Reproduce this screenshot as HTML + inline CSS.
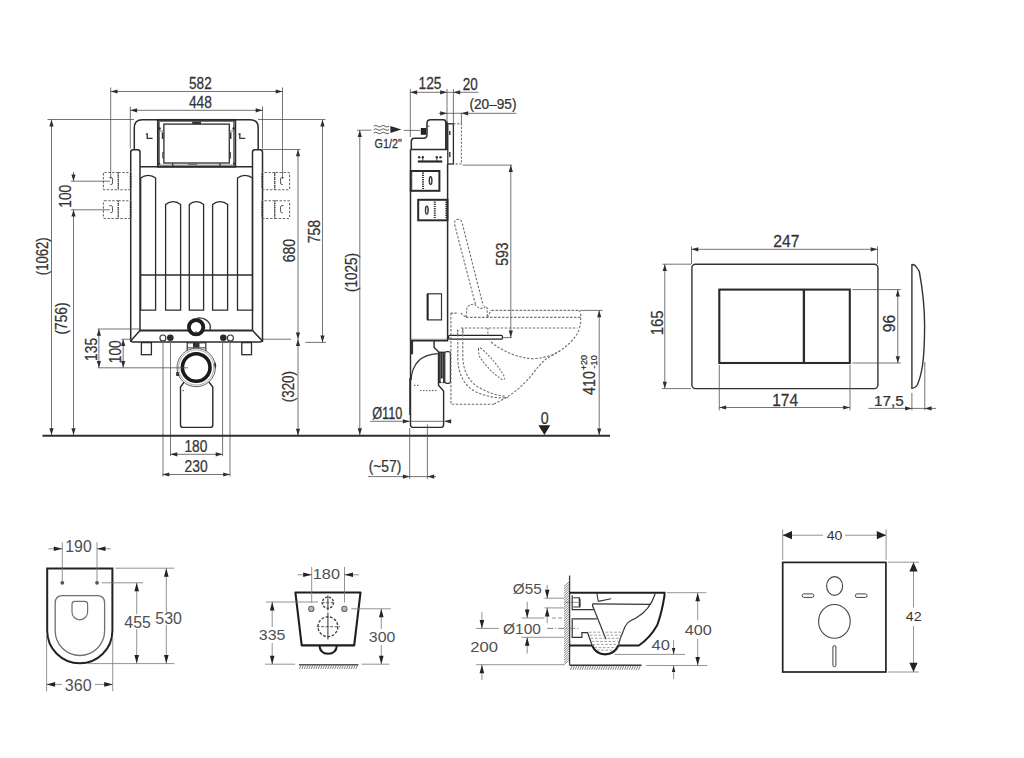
<!DOCTYPE html>
<html><head><meta charset="utf-8"><title>Installation frame drawing</title>
<style>
html,body{margin:0;padding:0;background:#fff;}
body{width:1024px;height:758px;overflow:hidden;}
svg{display:block;font-family:"Liberation Sans",sans-serif;}
</style></head><body>
<svg width="1024" height="758" viewBox="0 0 1024 758">
<rect width="1024" height="758" fill="#fff"/>
<path d="M134.3,149.7 L134.3,127.8 Q134.3,119.8 142.3,119.8 L250.2,119.8 Q258.2,119.8 258.2,127.8 L258.2,149.7" stroke="#2b2b2b" stroke-width="1.5" fill="none" />
<path d="M130.7,341.9 L130.7,152.2 Q130.7,149.7 133.2,149.7 L137.5,149.7 Q140,149.7 140,152.2 L140,330.5" stroke="#2b2b2b" stroke-width="1.5" fill="none" />
<path d="M262.5,341.9 L262.5,152.2 Q262.5,149.7 260,149.7 L255,149.7 Q252.5,149.7 252.5,152.2 L252.5,330.5" stroke="#2b2b2b" stroke-width="1.5" fill="none" />
<line x1="140" y1="166.8" x2="252.5" y2="166.8" stroke="#2b2b2b" stroke-width="1.5" stroke-linecap="butt"/>
<rect x="157.9" y="119.9" width="77.4" height="46.8" rx="0" stroke="#2b2b2b" stroke-width="1.9" fill="none"/>
<rect x="159.6" y="121.5" width="74" height="43.6" rx="0" stroke="#555" stroke-width="0.8" fill="none"/>
<rect x="163.9" y="124.1" width="65.4" height="38.9" rx="0" stroke="#2b2b2b" stroke-width="1.3" fill="none"/>
<rect x="192.2" y="121.6" width="8.8" height="2.6" rx="0" stroke="none" stroke-width="0" fill="#333"/>
<line x1="172.7" y1="163.2" x2="172.7" y2="166" stroke="#333" stroke-width="1.3" stroke-linecap="butt"/>
<line x1="220" y1="163.2" x2="220" y2="166" stroke="#333" stroke-width="1.3" stroke-linecap="butt"/>
<line x1="188" y1="164.2" x2="197" y2="164.2" stroke="#555" stroke-width="1" stroke-linecap="butt"/>
<circle cx="159.5" cy="128.6" r="1.3" fill="#333"/>
<line x1="162.5" y1="132.4" x2="162.5" y2="138.9" stroke="#333" stroke-width="1.5" stroke-linecap="butt"/>
<line x1="162.9" y1="151.9" x2="162.9" y2="158.4" stroke="#444" stroke-width="1.2" stroke-linecap="butt"/>
<circle cx="159.3" cy="163.6" r="1.1" fill="#333"/>
<path d="M159.6,131 L163.7,131 L163.7,140" stroke="#555" stroke-width="0.8" fill="none" />
<circle cx="233.7" cy="128.6" r="1.3" fill="#333"/>
<line x1="230.7" y1="132.4" x2="230.7" y2="138.9" stroke="#333" stroke-width="1.5" stroke-linecap="butt"/>
<line x1="230.3" y1="151.9" x2="230.3" y2="158.4" stroke="#444" stroke-width="1.2" stroke-linecap="butt"/>
<circle cx="233.9" cy="163.6" r="1.1" fill="#333"/>
<path d="M233.6,131 L229.5,131 L229.5,140" stroke="#555" stroke-width="0.8" fill="none" />
<path d="M147.2,133.6 L147.2,138.4 L152.6,138.4" stroke="#333" stroke-width="1.3" fill="none" />
<line x1="145.8" y1="134" x2="147.8" y2="134" stroke="#333" stroke-width="1.2" stroke-linecap="butt"/>
<path d="M239.8,133.6 L239.8,138.4 L245.2,138.4" stroke="#333" stroke-width="1.3" fill="none" />
<line x1="238.4" y1="134" x2="240.4" y2="134" stroke="#333" stroke-width="1.2" stroke-linecap="butt"/>
<path d="M140.7,310.1 L140.7,178.1 A11.63,11.63 0 0 1 155.6,178.1 L155.6,310.1 Z" stroke="#2b2b2b" stroke-width="1.3" fill="none" />
<path d="M237.5,310.1 L237.5,178.1 A11.77,11.77 0 0 1 252.5,178.1 L252.5,310.1 Z" stroke="#2b2b2b" stroke-width="1.3" fill="none" />
<path d="M165.6,310.1 L165.6,204.4 A11.77,11.77 0 0 1 180.6,204.4 L180.6,310.1 Z" stroke="#2b2b2b" stroke-width="1.3" fill="none" />
<path d="M189.3,310.1 L189.3,204.4 A10.82,10.82 0 0 1 203.6,204.4 L203.6,310.1 Z" stroke="#2b2b2b" stroke-width="1.3" fill="none" />
<path d="M212.6,310.1 L212.6,204.4 A11.77,11.77 0 0 1 227.6,204.4 L227.6,310.1 Z" stroke="#2b2b2b" stroke-width="1.3" fill="none" />
<line x1="140" y1="275" x2="252.5" y2="275" stroke="#2b2b2b" stroke-width="1.3" stroke-linecap="butt"/>
<line x1="140" y1="330.5" x2="252.5" y2="330.5" stroke="#2b2b2b" stroke-width="2" stroke-linecap="butt"/>
<path d="M140,330.5 L131.5,340 Q131,341.9 133,341.9 L260,341.9 Q262,341.9 261.5,340 L252.5,330.5" stroke="#2b2b2b" stroke-width="1.5" fill="none" />
<path d="M197.5,318 Q206,317.5 209.8,324 Q210.8,327 210,330" stroke="#333" stroke-width="1.3" fill="none" />
<circle cx="196.1" cy="327.2" r="7.2" fill="#fff" stroke="#1e1e1e" stroke-width="3.8"/>
<line x1="196.1" y1="331.2" x2="196.1" y2="333.2" stroke="#333" stroke-width="1" stroke-linecap="butt"/>
<circle cx="162.9" cy="338" r="3" fill="#fff" stroke="#333" stroke-width="1.1"/>
<circle cx="170.3" cy="337.8" r="3.3" fill="#2a2a2a"/>
<circle cx="223.3" cy="337.8" r="3.3" fill="#2a2a2a"/>
<circle cx="230.4" cy="338" r="3" fill="#fff" stroke="#333" stroke-width="1.1"/>
<rect x="141.4" y="342.6" width="10" height="12.1" rx="0" stroke="#2b2b2b" stroke-width="1.3" fill="none"/>
<rect x="241.8" y="342.6" width="9.7" height="12.1" rx="0" stroke="#2b2b2b" stroke-width="1.3" fill="none"/>
<line x1="163" y1="342.5" x2="163" y2="476.5" stroke="#666" stroke-width="0.9" stroke-linecap="butt"/>
<line x1="230" y1="342.5" x2="230" y2="476.5" stroke="#666" stroke-width="0.9" stroke-linecap="butt"/>
<line x1="170.5" y1="342.5" x2="170.5" y2="456.2" stroke="#666" stroke-width="0.9" stroke-linecap="butt"/>
<line x1="222.6" y1="342.5" x2="222.6" y2="456.2" stroke="#666" stroke-width="0.9" stroke-linecap="butt"/>
<rect x="187.2" y="342.8" width="18.6" height="9.7" rx="0" stroke="#333" stroke-width="1.2" fill="none"/>
<rect x="193" y="342.8" width="6.5" height="4.7" rx="0" stroke="none" stroke-width="0" fill="#333"/>
<line x1="187.2" y1="347.8" x2="205.8" y2="347.8" stroke="#444" stroke-width="1" stroke-linecap="butt"/>
<path d="M186,379.5 L180.5,387 L180.5,425 Q180.5,427.4 183,427.4 L210.3,427.4 Q212.8,427.4 212.8,425 L212.8,387 L207,379.5" stroke="#2b2b2b" stroke-width="1.4" fill="#fff" />
<circle cx="196.2" cy="367.5" r="19.2" fill="#fff" stroke="#555" stroke-width="0.9"/>
<circle cx="196.2" cy="367.5" r="17.6" fill="none" stroke="#777" stroke-width="0.6"/>
<circle cx="196.2" cy="367.5" r="13.8" fill="#fff" stroke="#1a1a1a" stroke-width="3.6"/>
<polygon points="176.2,372 178.5,372 179.5,376 176.2,376" fill="#333"/>
<polygon points="215.5,362 216.3,366 215,369 214,364" fill="#333"/>
<circle cx="183.3" cy="390.6" r="0.7" fill="#333"/>
<rect x="103.4" y="172.5" width="14.9" height="17.2" rx="1" stroke="#666" stroke-width="1.1" fill="none" stroke-dasharray="2.4,1.5"/>
<path d="M118.3,172.5 L130.6,172.5 M130.6,189.7 L118.3,189.7" stroke="#666" stroke-width="1.1" fill="none" stroke-dasharray="2.4,1.5" />
<line x1="118.3" y1="172.5" x2="118.3" y2="189.7" stroke="#444" stroke-width="1.4" stroke-dasharray="1.1,1" stroke-linecap="butt"/>
<path d="M109.35,177.5 L111.35,177.5 Q112.45,177.5 112.45,179 L112.45,183 Q112.45,184.5 111.15,184.5 L110.25,184.5" stroke="#555" stroke-width="1" fill="none" />
<line x1="130.6" y1="173.5" x2="130.6" y2="188.7" stroke="#333" stroke-width="1.8" stroke-dasharray="1.2,1.3" stroke-linecap="butt"/>
<rect x="274.7" y="172.5" width="14.9" height="17.2" rx="1" stroke="#666" stroke-width="1.1" fill="none" stroke-dasharray="2.4,1.5"/>
<path d="M274.7,172.5 L262.2,172.5 M262.2,189.7 L274.7,189.7" stroke="#666" stroke-width="1.1" fill="none" stroke-dasharray="2.4,1.5" />
<line x1="274.7" y1="172.5" x2="274.7" y2="189.7" stroke="#444" stroke-width="1.4" stroke-dasharray="1.1,1" stroke-linecap="butt"/>
<path d="M283.65,177.5 L281.65,177.5 Q280.55,177.5 280.55,179 L280.55,183 Q280.55,184.5 281.85,184.5 L282.75,184.5" stroke="#555" stroke-width="1" fill="none" />
<line x1="262.2" y1="173.5" x2="262.2" y2="188.7" stroke="#333" stroke-width="1.8" stroke-dasharray="1.2,1.3" stroke-linecap="butt"/>
<rect x="103.4" y="200.7" width="14.9" height="17.8" rx="1" stroke="#666" stroke-width="1.1" fill="none" stroke-dasharray="2.4,1.5"/>
<path d="M118.3,200.7 L130.6,200.7 M130.6,218.5 L118.3,218.5" stroke="#666" stroke-width="1.1" fill="none" stroke-dasharray="2.4,1.5" />
<line x1="118.3" y1="200.7" x2="118.3" y2="218.5" stroke="#444" stroke-width="1.4" stroke-dasharray="1.1,1" stroke-linecap="butt"/>
<path d="M109.35,205.7 L111.35,205.7 Q112.45,205.7 112.45,207.2 L112.45,211.2 Q112.45,212.7 111.15,212.7 L110.25,212.7" stroke="#555" stroke-width="1" fill="none" />
<line x1="130.6" y1="201.7" x2="130.6" y2="217.5" stroke="#333" stroke-width="1.8" stroke-dasharray="1.2,1.3" stroke-linecap="butt"/>
<rect x="274.7" y="200.7" width="14.9" height="17.8" rx="1" stroke="#666" stroke-width="1.1" fill="none" stroke-dasharray="2.4,1.5"/>
<path d="M274.7,200.7 L262.2,200.7 M262.2,218.5 L274.7,218.5" stroke="#666" stroke-width="1.1" fill="none" stroke-dasharray="2.4,1.5" />
<line x1="274.7" y1="200.7" x2="274.7" y2="218.5" stroke="#444" stroke-width="1.4" stroke-dasharray="1.1,1" stroke-linecap="butt"/>
<path d="M283.65,205.7 L281.65,205.7 Q280.55,205.7 280.55,207.2 L280.55,211.2 Q280.55,212.7 281.85,212.7 L282.75,212.7" stroke="#555" stroke-width="1" fill="none" />
<line x1="262.2" y1="201.7" x2="262.2" y2="217.5" stroke="#333" stroke-width="1.8" stroke-dasharray="1.2,1.3" stroke-linecap="butt"/>
<line x1="110.7" y1="91.5" x2="282.5" y2="91.5" stroke="#505050" stroke-width="0.8" stroke-linecap="butt"/>
<polygon points="110.7,91.5 117.5,89.4 117.5,93.6" fill="#2e2e2e"/>
<polygon points="282.5,91.5 275.7,93.6 275.7,89.4" fill="#2e2e2e"/>
<line x1="110.7" y1="87.5" x2="110.7" y2="179" stroke="#505050" stroke-width="0.8" stroke-linecap="butt"/>
<line x1="282.5" y1="87.5" x2="282.5" y2="179" stroke="#505050" stroke-width="0.8" stroke-linecap="butt"/>
<text transform="translate(200.3,88.8) scale(0.8330,1)" x="-13.5" y="0" font-size="16.28" fill="#333" stroke="#333" stroke-width="0.25">582</text>
<line x1="130.3" y1="110.3" x2="262.5" y2="110.3" stroke="#505050" stroke-width="0.8" stroke-linecap="butt"/>
<polygon points="130.3,110.3 137.1,108.2 137.1,112.4" fill="#2e2e2e"/>
<polygon points="262.5,110.3 255.7,112.4 255.7,108.2" fill="#2e2e2e"/>
<line x1="130.3" y1="106.5" x2="130.3" y2="148.5" stroke="#505050" stroke-width="0.8" stroke-linecap="butt"/>
<line x1="262.5" y1="106.5" x2="262.5" y2="148.5" stroke="#505050" stroke-width="0.8" stroke-linecap="butt"/>
<text transform="translate(200.3,107.6) scale(0.8399,1)" x="-13.53" y="0" font-size="16.42" fill="#333" stroke="#333" stroke-width="0.25">448</text>
<line x1="47.5" y1="119.5" x2="134" y2="119.5" stroke="#505050" stroke-width="0.8" stroke-linecap="butt"/>
<line x1="258" y1="119.5" x2="325.5" y2="119.5" stroke="#505050" stroke-width="0.8" stroke-linecap="butt"/>
<line x1="51.5" y1="119.5" x2="51.5" y2="435" stroke="#505050" stroke-width="0.8" stroke-linecap="butt"/>
<polygon points="51.5,119.6 53.6,126.4 49.4,126.4" fill="#2e2e2e"/>
<polygon points="51.5,435 49.4,428.2 53.6,428.2" fill="#2e2e2e"/>
<text transform="translate(47.7,256.2) rotate(-90) scale(0.8358,1)" x="-22.69" y="0" font-size="15.70" fill="#333" stroke="#333" stroke-width="0.25">(1062)</text>
<line x1="73.5" y1="172" x2="73.5" y2="181.2" stroke="#505050" stroke-width="0.8" stroke-linecap="butt"/>
<polygon points="73.5,181.2 71.4,174.4 75.6,174.4" fill="#2e2e2e"/>
<line x1="70.8" y1="181.2" x2="110" y2="181.2" stroke="#505050" stroke-width="0.8" stroke-linecap="butt"/>
<line x1="70.8" y1="209.8" x2="110" y2="209.8" stroke="#505050" stroke-width="0.8" stroke-linecap="butt"/>
<line x1="73.5" y1="209.8" x2="73.5" y2="435" stroke="#505050" stroke-width="0.8" stroke-linecap="butt"/>
<polygon points="73.5,209.8 75.6,216.6 71.4,216.6" fill="#2e2e2e"/>
<polygon points="73.5,435 71.4,428.2 75.6,428.2" fill="#2e2e2e"/>
<text transform="translate(70.7,196) rotate(-90) scale(0.8463,1)" x="-13.88" y="0" font-size="16.28" fill="#333" stroke="#333" stroke-width="0.25">100</text>
<text transform="translate(66.8,318.5) rotate(-90) scale(0.8790,1)" x="-18.32" y="0" font-size="15.70" fill="#333" stroke="#333" stroke-width="0.25">(756)</text>
<line x1="97.7" y1="329" x2="140" y2="329" stroke="#505050" stroke-width="0.8" stroke-linecap="butt"/>
<line x1="97.7" y1="367.8" x2="188" y2="367.8" stroke="#505050" stroke-width="0.8" stroke-linecap="butt"/>
<line x1="98.9" y1="329" x2="98.9" y2="367.8" stroke="#505050" stroke-width="0.8" stroke-linecap="butt"/>
<polygon points="98.9,329 101,335.8 96.8,335.8" fill="#2e2e2e"/>
<polygon points="98.9,367.8 96.8,361 101,361" fill="#2e2e2e"/>
<line x1="121.5" y1="339.2" x2="131" y2="339.2" stroke="#505050" stroke-width="0.8" stroke-linecap="butt"/>
<line x1="123.2" y1="339.2" x2="123.2" y2="367.8" stroke="#505050" stroke-width="0.8" stroke-linecap="butt"/>
<polygon points="123.2,339.2 125.3,346 121.1,346" fill="#2e2e2e"/>
<polygon points="123.2,367.8 121.1,361 125.3,361" fill="#2e2e2e"/>
<text transform="translate(96.7,349.2) rotate(-90) scale(0.8634,1)" x="-13.61" y="0" font-size="15.99" fill="#333" stroke="#333" stroke-width="0.25">135</text>
<text transform="translate(120.7,351.5) rotate(-90) scale(0.8617,1)" x="-13.63" y="0" font-size="15.99" fill="#333" stroke="#333" stroke-width="0.25">100</text>
<line x1="261" y1="149.5" x2="300.5" y2="149.5" stroke="#505050" stroke-width="0.8" stroke-linecap="butt"/>
<line x1="298" y1="149.5" x2="298" y2="435.5" stroke="#505050" stroke-width="0.8" stroke-linecap="butt"/>
<polygon points="298,149.5 300.1,156.3 295.9,156.3" fill="#2e2e2e"/>
<polygon points="298,339.2 295.9,332.4 300.1,332.4" fill="#2e2e2e"/>
<polygon points="298,339.2 300.1,346 295.9,346" fill="#2e2e2e"/>
<polygon points="298,435.5 295.9,428.7 300.1,428.7" fill="#2e2e2e"/>
<line x1="262.7" y1="339.2" x2="291" y2="339.2" stroke="#505050" stroke-width="0.8" stroke-linecap="butt"/>
<text transform="translate(295.1,250.6) rotate(-90) scale(0.8756,1)" x="-13.43" y="0" font-size="15.99" fill="#333" stroke="#333" stroke-width="0.25">680</text>
<text transform="translate(293.8,386.6) rotate(-90) scale(0.8530,1)" x="-18.32" y="0" font-size="15.70" fill="#333" stroke="#333" stroke-width="0.25">(320)</text>
<line x1="322.5" y1="120" x2="322.5" y2="342.4" stroke="#505050" stroke-width="0.8" stroke-linecap="butt"/>
<polygon points="322.5,119.6 324.6,126.4 320.4,126.4" fill="#2e2e2e"/>
<polygon points="322.5,342.4 320.4,335.6 324.6,335.6" fill="#2e2e2e"/>
<line x1="305.4" y1="342.4" x2="326" y2="342.4" stroke="#505050" stroke-width="0.8" stroke-linecap="butt"/>
<text transform="translate(320.4,231.6) rotate(-90) scale(0.8783,1)" x="-13.4" y="0" font-size="15.99" fill="#333" stroke="#333" stroke-width="0.25">758</text>
<line x1="42.5" y1="435.8" x2="610" y2="435.8" stroke="#2e2e2e" stroke-width="2.1" stroke-linecap="butt"/>
<line x1="170.5" y1="454.3" x2="222.5" y2="454.3" stroke="#505050" stroke-width="0.8" stroke-linecap="butt"/>
<polygon points="170.5,454.3 177.3,452.2 177.3,456.4" fill="#2e2e2e"/>
<polygon points="222.5,454.3 215.7,456.4 215.7,452.2" fill="#2e2e2e"/>
<text transform="translate(196.2,452.2) scale(0.8172,1)" x="-14.38" y="0" font-size="16.86" fill="#333" stroke="#333" stroke-width="0.25">180</text>
<line x1="162.5" y1="474.5" x2="230" y2="474.5" stroke="#505050" stroke-width="0.8" stroke-linecap="butt"/>
<polygon points="162.5,474.5 169.3,472.4 169.3,476.6" fill="#2e2e2e"/>
<polygon points="230,474.5 223.2,476.6 223.2,472.4" fill="#2e2e2e"/>
<text transform="translate(196.2,472.4) scale(0.8225,1)" x="-14.16" y="0" font-size="16.86" fill="#333" stroke="#333" stroke-width="0.25">230</text>
<line x1="357" y1="130.2" x2="371.3" y2="130.2" stroke="#505050" stroke-width="0.8" stroke-linecap="butt"/>
<line x1="359.8" y1="130.2" x2="359.8" y2="435" stroke="#505050" stroke-width="0.8" stroke-linecap="butt"/>
<polygon points="359.8,130.2 361.9,137 357.7,137" fill="#2e2e2e"/>
<polygon points="359.8,435 357.7,428.2 361.9,428.2" fill="#2e2e2e"/>
<text transform="translate(356.8,272.4) rotate(-90) scale(0.8612,1)" x="-22.69" y="0" font-size="15.70" fill="#333" stroke="#333" stroke-width="0.25">(1025)</text>
<path d="M373.8,126.2 q1.9,-1.6 3.8,0 t3.8,0 t3.8,0 t3.8,0" stroke="#444" stroke-width="0.9" fill="none" />
<path d="M373.8,129.6 q1.9,-1.6 3.8,0 t3.8,0 t3.8,0 t3.8,0" stroke="#444" stroke-width="0.9" fill="none" />
<path d="M373.8,133 q1.9,-1.6 3.8,0 t3.8,0 t3.8,0 t3.8,0" stroke="#444" stroke-width="0.9" fill="none" />
<polygon points="401.4,129.6 390.4,133.1 390.4,126.1" fill="#2a2a2a"/>
<line x1="403.7" y1="130.4" x2="420" y2="130.4" stroke="#555" stroke-width="0.8" stroke-linecap="butt"/>
<text transform="translate(388.2,147.5) scale(0.8526,1)" x="-16" y="0" font-size="12.65" fill="#333" stroke="#333" stroke-width="0.25">G1/2&quot;</text>
<path d="M411.3,149.3 L411.3,141.4 Q411.3,138.2 414.5,138.2 L423.6,138.2 Q427,138.2 427,134.8 L427,123.3 Q427,119.7 430.6,119.7 L443.2,119.7 Q445.8,119.7 445.8,122.3 L445.8,149.3" stroke="#2b2b2b" stroke-width="1.5" fill="none" />
<rect x="420.8" y="128" width="5.4" height="6.8" rx="0" stroke="none" stroke-width="0" fill="#222"/>
<path d="M426.5,126.2 L429.5,126.2" stroke="#444" stroke-width="0.9" fill="none" />
<rect x="445.8" y="121.3" width="2" height="28" rx="0" stroke="none" stroke-width="0" fill="#333"/>
<rect x="447.8" y="123.8" width="5.6" height="40.2" rx="0" stroke="#2b2b2b" stroke-width="1.3" fill="none"/>
<path d="M453.4,123.8 L461.4,123.8 L461.4,164 L453.4,164" stroke="#666" stroke-width="1" fill="none" stroke-dasharray="2.2,1.5" />
<line x1="449.8" y1="131" x2="449.8" y2="135" stroke="#333" stroke-width="1.4" stroke-linecap="butt"/>
<line x1="449.8" y1="152" x2="449.8" y2="157" stroke="#333" stroke-width="1.4" stroke-linecap="butt"/>
<path d="M410.5,149.4 L447.8,149.4 M410.5,149.4 L410.5,340.6 M447.6,164 L447.6,340.6" stroke="#2b2b2b" stroke-width="1.5" fill="none" />
<line x1="417.8" y1="161.5" x2="442.2" y2="161.5" stroke="#2a2a2a" stroke-width="2.2" stroke-linecap="butt"/>
<circle cx="419.2" cy="157.3" r="1.2" fill="#333"/>
<circle cx="422.8" cy="157.3" r="1.2" fill="#333"/>
<circle cx="436.8" cy="157.3" r="1.2" fill="#333"/>
<circle cx="440.5" cy="157.3" r="1.2" fill="#333"/>
<line x1="422.8" y1="157.3" x2="422.8" y2="161" stroke="#333" stroke-width="0.9" stroke-linecap="butt"/>
<line x1="436.8" y1="157.3" x2="436.8" y2="161" stroke="#333" stroke-width="0.9" stroke-linecap="butt"/>
<rect x="410.8" y="171" width="28.6" height="19.8" rx="0" stroke="#2b2b2b" stroke-width="2" fill="none"/>
<line x1="423" y1="172.5" x2="423" y2="189.5" stroke="#333" stroke-width="2" stroke-dasharray="1.2,1.0" stroke-linecap="butt"/>
<ellipse cx="430.6" cy="180.6" rx="1.3" ry="3.9" fill="none" stroke="#333" stroke-width="1.4"/>
<rect x="418.2" y="199.8" width="29.2" height="20.5" rx="0" stroke="#2b2b2b" stroke-width="2" fill="none"/>
<line x1="434.8" y1="201.5" x2="434.8" y2="219" stroke="#333" stroke-width="2" stroke-dasharray="1.2,1.0" stroke-linecap="butt"/>
<line x1="446.2" y1="201.5" x2="446.2" y2="219" stroke="#333" stroke-width="1.8" stroke-dasharray="1.2,1.0" stroke-linecap="butt"/>
<ellipse cx="426.8" cy="210.2" rx="1.3" ry="3.9" fill="none" stroke="#333" stroke-width="1.4"/>
<line x1="411.6" y1="172.5" x2="411.6" y2="189.5" stroke="#444" stroke-width="1.6" stroke-dasharray="1.2,1.0" stroke-linecap="butt"/>
<rect x="427.6" y="293.8" width="13.9" height="26.1" rx="0" stroke="#333" stroke-width="1.2" fill="none"/>
<line x1="427.6" y1="294" x2="427.6" y2="319.8" stroke="#222" stroke-width="2" stroke-linecap="butt"/>
<line x1="410.5" y1="340.6" x2="448.2" y2="340.6" stroke="#2a2a2a" stroke-width="1.8" stroke-linecap="butt"/>
<line x1="411.5" y1="339.2" x2="446.5" y2="339.2" stroke="#555" stroke-width="1" stroke-dasharray="1,1" stroke-linecap="butt"/>
<rect x="448.6" y="335.4" width="53.8" height="3.8" rx="1" stroke="#222" stroke-width="1.2" fill="none"/>
<line x1="449.5" y1="337.3" x2="501" y2="337.3" stroke="#fff" stroke-width="0.9" stroke-linecap="butt"/>
<path d="M410.5,340.6 L410.5,424.8 Q410.5,427.4 413,427.4 L441,427.4 Q443.6,427.4 443.6,424.8 L443.6,391 L438.5,385.2 L438.5,351.8 L434.1,347.4 L434.1,341" stroke="#2b2b2b" stroke-width="1.4" fill="none" />
<line x1="409.6" y1="378" x2="409.6" y2="415" stroke="#444" stroke-width="1" stroke-linecap="butt"/>
<path d="M411,380.4 Q412.5,355 437.8,353.6" stroke="#333" stroke-width="1.2" fill="none" />
<rect x="438.5" y="351.6" width="6.3" height="31.5" rx="0" stroke="none" stroke-width="0" fill="#2e2e2e"/>
<line x1="440.3" y1="353" x2="440.3" y2="381" stroke="#999" stroke-width="0.6" stroke-linecap="butt"/>
<line x1="442.6" y1="353" x2="442.6" y2="381" stroke="#999" stroke-width="0.6" stroke-linecap="butt"/>
<rect x="440.8" y="378.5" width="2.2" height="4" rx="0" stroke="none" stroke-width="0" fill="#fff"/>
<rect x="444.8" y="351.6" width="5.6" height="31.7" rx="2" stroke="#333" stroke-width="1.2" fill="#fff"/>
<line x1="412" y1="341" x2="412" y2="354.3" stroke="#333" stroke-width="2.2" stroke-linecap="butt"/>
<line x1="414" y1="385.3" x2="420" y2="385.3" stroke="#555" stroke-width="1" stroke-dasharray="1.5,1.5" stroke-linecap="butt"/>
<line x1="420" y1="390.6" x2="437" y2="390.6" stroke="#555" stroke-width="1" stroke-dasharray="1.5,1.5" stroke-linecap="butt"/>
<line x1="370.2" y1="421.3" x2="451.2" y2="421.3" stroke="#505050" stroke-width="0.8" stroke-linecap="butt"/>
<polygon points="409.7,421.3 402.9,423.4 402.9,419.2" fill="#2e2e2e"/>
<polygon points="444.3,421.3 451.1,419.2 451.1,423.4" fill="#2e2e2e"/>
<text transform="translate(387.7,418.8) scale(0.7961,1)" x="-19.52" y="0" font-size="15.99" fill="#333" stroke="#333" stroke-width="0.25">Ø110</text>
<line x1="409.7" y1="428" x2="409.7" y2="479" stroke="#505050" stroke-width="0.8" stroke-linecap="butt"/>
<line x1="427.4" y1="424.4" x2="427.4" y2="479" stroke="#505050" stroke-width="0.8" stroke-linecap="butt"/>
<line x1="368.1" y1="476.6" x2="436" y2="476.6" stroke="#505050" stroke-width="0.8" stroke-linecap="butt"/>
<polygon points="409.7,476.6 402.9,478.7 402.9,474.5" fill="#2e2e2e"/>
<polygon points="427.4,476.6 434.2,474.5 434.2,478.7" fill="#2e2e2e"/>
<text transform="translate(385,471.8) scale(0.8794,1)" x="-18.54" y="0" font-size="15.70" fill="#333" stroke="#333" stroke-width="0.25">(~57)</text>
<line x1="410.3" y1="92.3" x2="478.5" y2="92.3" stroke="#505050" stroke-width="0.8" stroke-linecap="butt"/>
<polygon points="410.3,92.3 417.1,90.2 417.1,94.4" fill="#2e2e2e"/>
<polygon points="447,92.3 440.2,94.4 440.2,90.2" fill="#2e2e2e"/>
<polygon points="453.4,92.3 460.2,90.2 460.2,94.4" fill="#2e2e2e"/>
<line x1="410.3" y1="89" x2="410.3" y2="137" stroke="#505050" stroke-width="0.8" stroke-linecap="butt"/>
<line x1="447" y1="89" x2="447" y2="121" stroke="#505050" stroke-width="0.8" stroke-linecap="butt"/>
<line x1="453.4" y1="89" x2="453.4" y2="124" stroke="#505050" stroke-width="0.8" stroke-linecap="butt"/>
<text transform="translate(430.2,88.8) scale(0.8292,1)" x="-14.11" y="0" font-size="16.57" fill="#333" stroke="#333" stroke-width="0.25">125</text>
<text transform="translate(470.3,89.5) scale(0.8361,1)" x="-9.06" y="0" font-size="16.13" fill="#333" stroke="#333" stroke-width="0.25">20</text>
<line x1="438.7" y1="113.3" x2="516.3" y2="113.3" stroke="#505050" stroke-width="0.8" stroke-linecap="butt"/>
<polygon points="447,113.3 440.2,115.4 440.2,111.2" fill="#2e2e2e"/>
<polygon points="461.4,113.3 468.2,111.2 468.2,115.4" fill="#2e2e2e"/>
<line x1="461.4" y1="112.8" x2="461.4" y2="124" stroke="#505050" stroke-width="0.8" stroke-linecap="butt"/>
<text transform="translate(493,108.5) scale(0.9474,1)" x="-24.8" y="0" font-size="14.39" fill="#333" stroke="#333" stroke-width="0.25">(20–95)</text>
<line x1="462.7" y1="165.1" x2="512.2" y2="165.1" stroke="#505050" stroke-width="0.8" stroke-linecap="butt"/>
<line x1="510.8" y1="165.1" x2="510.8" y2="337.3" stroke="#505050" stroke-width="0.8" stroke-linecap="butt"/>
<polygon points="510.8,165.1 512.9,171.9 508.7,171.9" fill="#2e2e2e"/>
<polygon points="510.8,337.3 508.7,330.5 512.9,330.5" fill="#2e2e2e"/>
<line x1="502.4" y1="337.6" x2="512" y2="337.6" stroke="#505050" stroke-width="0.8" stroke-linecap="butt"/>
<text transform="translate(507.7,254.2) rotate(-90) scale(0.8724,1)" x="-13.31" y="0" font-size="15.99" fill="#333" stroke="#333" stroke-width="0.25">593</text>
<path d="M475.4,304.2 L454.6,224.5 Q453.8,219.8 458.2,219.2 Q461.2,219.2 462.3,223.5 L483.1,305.5" stroke="#6e6e6e" stroke-width="1.1" fill="none" stroke-dasharray="2.4,1.6" />
<path d="M450.9,313.1 L458.2,313.1 M460.8,313.1 L466.1,317.4 L466.8,308.5 Q468,304.4 474.7,304.2 L476.5,306.5 Q480,309 483.3,308.2 L485.5,306.3 L487.2,308 L487.2,317.4 L491.2,310.3" stroke="#6e6e6e" stroke-width="1.1" fill="none" stroke-dasharray="2.2,1.4" />
<line x1="491.5" y1="310.4" x2="578.5" y2="310.4" stroke="#6e6e6e" stroke-width="1.1" stroke-dasharray="2.4,1.6" stroke-linecap="butt"/>
<line x1="466.1" y1="317.4" x2="580.5" y2="317.4" stroke="#6e6e6e" stroke-width="1.1" stroke-dasharray="2.4,1.6" stroke-linecap="butt"/>
<line x1="460.8" y1="328" x2="576.8" y2="328" stroke="#6e6e6e" stroke-width="1.1" stroke-dasharray="2.4,1.6" stroke-linecap="butt"/>
<path d="M578.5,310.4 Q580.8,311.5 580.8,316 L580.6,324 Q580.4,328.5 576.8,328" stroke="#6e6e6e" stroke-width="1.1" fill="none" stroke-dasharray="2.4,1.6" />
<path d="M450.9,313.1 L450.9,404.2 L494,404.2" stroke="#6e6e6e" stroke-width="1.1" fill="none" stroke-dasharray="2.4,1.6" />
<line x1="462.8" y1="328" x2="462.8" y2="336" stroke="#6e6e6e" stroke-width="1.1" stroke-dasharray="2,1.4" stroke-linecap="butt"/>
<line x1="487.9" y1="328" x2="487.9" y2="335" stroke="#6e6e6e" stroke-width="1.1" stroke-dasharray="2,1.4" stroke-linecap="butt"/>
<line x1="457.5" y1="329.5" x2="457.5" y2="336" stroke="#6e6e6e" stroke-width="1.1" stroke-dasharray="2,1.4" stroke-linecap="butt"/>
<path d="M579,330 Q573,345 547,358.2 Q539,365 531,376 Q516,394 494,404" stroke="#6e6e6e" stroke-width="1.1" fill="none" stroke-dasharray="2.4,1.6" />
<path d="M491,342 Q510,357 532,358.7 Q550,358 561,350" stroke="#6e6e6e" stroke-width="1.1" fill="none" stroke-dasharray="2.4,1.6" />
<path d="M457.8,330 L457.8,360 Q459,383 476,392 Q492,399 508,397.6" stroke="#6e6e6e" stroke-width="1.1" fill="none" stroke-dasharray="2.4,1.6" />
<path d="M462.8,330 L462.8,358 Q464,378 478,387 Q494,396 505,396" stroke="#6e6e6e" stroke-width="1.1" fill="none" stroke-dasharray="2.4,1.6" />
<path d="M478.5,350 Q478,346 482,349 Q496,362 504,376 Q506,380 502,379.5 Q490,372 479,356 Z" stroke="#6e6e6e" stroke-width="1.1" fill="none" stroke-dasharray="2,1.5" />
<line x1="580.3" y1="310.4" x2="602.6" y2="310.4" stroke="#505050" stroke-width="0.8" stroke-linecap="butt"/>
<line x1="599.2" y1="310.4" x2="599.2" y2="435.3" stroke="#505050" stroke-width="0.8" stroke-linecap="butt"/>
<polygon points="599.2,310.4 601.3,317.2 597.1,317.2" fill="#2e2e2e"/>
<polygon points="599.2,435.3 597.1,428.5 601.3,428.5" fill="#2e2e2e"/>
<text transform="translate(594.5,383.2) rotate(-90) scale(0.9081,1)" x="-12.97" y="0" font-size="15.70" fill="#333" stroke="#333" stroke-width="0.25">410</text>
<text transform="translate(586.7,362.6) rotate(-90) scale(0.9462,1)" x="-8.18" y="0" font-size="9.59" fill="#333" stroke="#333" stroke-width="0.25">+20</text>
<text transform="translate(596.5,361.8) rotate(-90) scale(0.9492,1)" x="-6.96" y="0" font-size="9.59" fill="#333" stroke="#333" stroke-width="0.25">-10</text>
<text transform="translate(544.8,423.5) scale(0.8224,1)" x="-4.81" y="0" font-size="17.30" fill="#333" stroke="#333" stroke-width="0.25">0</text>
<polygon points="538.4,425.2 550.3,425.2 544.4,435" fill="#222"/>
<rect x="691.9" y="264.2" width="186" height="124.4" rx="3.5" stroke="#333" stroke-width="1.4" fill="none"/>
<rect x="719.3" y="289.6" width="130.5" height="73.4" rx="0" stroke="#2a2a2a" stroke-width="2.1" fill="none"/>
<line x1="803.9" y1="289.6" x2="803.9" y2="363" stroke="#2a2a2a" stroke-width="2.3" stroke-linecap="butt"/>
<line x1="691.5" y1="249.3" x2="877.5" y2="249.3" stroke="#505050" stroke-width="0.8" stroke-linecap="butt"/>
<polygon points="691.5,249.3 698.3,247.2 698.3,251.4" fill="#2e2e2e"/>
<polygon points="877.5,249.3 870.7,251.4 870.7,247.2" fill="#2e2e2e"/>
<line x1="691.5" y1="246.5" x2="691.5" y2="264" stroke="#505050" stroke-width="0.8" stroke-linecap="butt"/>
<line x1="877.5" y1="246.5" x2="877.5" y2="264" stroke="#505050" stroke-width="0.8" stroke-linecap="butt"/>
<text transform="translate(786.4,247.4) scale(0.9903,1)" x="-13.22" y="0" font-size="15.84" fill="#333" stroke="#333" stroke-width="0.25">247</text>
<line x1="662.5" y1="264.2" x2="691" y2="264.2" stroke="#505050" stroke-width="0.8" stroke-linecap="butt"/>
<line x1="662" y1="388.6" x2="691" y2="388.6" stroke="#505050" stroke-width="0.8" stroke-linecap="butt"/>
<line x1="664.8" y1="264.2" x2="664.8" y2="388.6" stroke="#505050" stroke-width="0.8" stroke-linecap="butt"/>
<polygon points="664.8,264.2 666.9,271 662.7,271" fill="#2e2e2e"/>
<polygon points="664.8,388.6 662.7,381.8 666.9,381.8" fill="#2e2e2e"/>
<text transform="translate(663.25,322.6) rotate(-90) scale(0.9446,1)" x="-13.49" y="0" font-size="15.84" fill="#333" stroke="#333" stroke-width="0.25">165</text>
<line x1="852.4" y1="289.6" x2="900.8" y2="289.6" stroke="#505050" stroke-width="0.8" stroke-linecap="butt"/>
<line x1="852.4" y1="363" x2="900.8" y2="363" stroke="#505050" stroke-width="0.8" stroke-linecap="butt"/>
<line x1="897.8" y1="289.6" x2="897.8" y2="363" stroke="#505050" stroke-width="0.8" stroke-linecap="butt"/>
<polygon points="897.8,289.6 899.9,296.4 895.7,296.4" fill="#2e2e2e"/>
<polygon points="897.8,363 895.7,356.2 899.9,356.2" fill="#2e2e2e"/>
<text transform="translate(895.35,323.5) rotate(-90) scale(0.9887,1)" x="-8.83" y="0" font-size="15.84" fill="#333" stroke="#333" stroke-width="0.25">96</text>
<line x1="719.3" y1="365" x2="719.3" y2="410.4" stroke="#505050" stroke-width="0.8" stroke-linecap="butt"/>
<line x1="850" y1="365" x2="850" y2="410.4" stroke="#505050" stroke-width="0.8" stroke-linecap="butt"/>
<line x1="719.3" y1="407.5" x2="850" y2="407.5" stroke="#505050" stroke-width="0.8" stroke-linecap="butt"/>
<polygon points="719.3,407.5 726.1,405.4 726.1,409.6" fill="#2e2e2e"/>
<polygon points="850,407.5 843.2,409.6 843.2,405.4" fill="#2e2e2e"/>
<text transform="translate(785.5,405.7) scale(0.9904,1)" x="-13.46" y="0" font-size="15.70" fill="#333" stroke="#333" stroke-width="0.25">174</text>
<path d="M911.9,264.6 Q914.8,264.2 916.8,267.5 L919.3,271.5 Q924.6,300 924.6,325 Q924.6,350 922.6,365 Q920.5,378 917.5,384.5 Q915.3,388.2 911.9,388.2 Z" stroke="#333" stroke-width="1.4" fill="none" />
<line x1="911.9" y1="392.9" x2="911.9" y2="410.4" stroke="#505050" stroke-width="0.8" stroke-linecap="butt"/>
<line x1="924.8" y1="362" x2="924.8" y2="410.4" stroke="#505050" stroke-width="0.8" stroke-linecap="butt"/>
<line x1="868.5" y1="408.4" x2="936" y2="408.4" stroke="#505050" stroke-width="0.8" stroke-linecap="butt"/>
<polygon points="911.9,408.4 905.1,410.5 905.1,406.3" fill="#2e2e2e"/>
<polygon points="924.8,408.4 931.6,406.3 931.6,410.5" fill="#2e2e2e"/>
<text transform="translate(889.1,405.5) scale(0.9941,1)" x="-15.26" y="0" font-size="15.41" fill="#333" stroke="#333" stroke-width="0.25">17,5</text>
<path d="M47.2,568.4 L112.4,568.4 L112.4,630.7 A32.6,32.6 0 0 1 47.2,630.7 Z" stroke="#222" stroke-width="2" fill="none" />
<path d="M55.2,603 Q55.2,595.6 62.5,595.6 L97.3,595.6 Q104.6,595.6 104.6,603 L104.6,630.8 A24.7,24.7 0 0 1 55.2,630.8 Z" stroke="#707070" stroke-width="1.3" fill="none" />
<path d="M72,604.2 Q72,601.4 75,601.4 L84.6,601.4 Q87.6,601.4 87.6,604.2 L87.6,612 A7.8,7.8 0 0 1 72,612 Z" stroke="#707070" stroke-width="1.2" fill="none" />
<circle cx="62.3" cy="582.8" r="1.9" fill="#555"/>
<circle cx="97" cy="582.8" r="1.9" fill="#555"/>
<line x1="62.3" y1="542.3" x2="62.3" y2="582" stroke="#777" stroke-width="0.8" stroke-linecap="butt"/>
<line x1="97" y1="542.3" x2="97" y2="582" stroke="#777" stroke-width="0.8" stroke-linecap="butt"/>
<line x1="48.5" y1="548.8" x2="62.3" y2="548.8" stroke="#777" stroke-width="0.8" stroke-linecap="butt"/>
<polygon points="62.3,548.8 53.8,551.1 53.8,546.5" fill="#222"/>
<line x1="97" y1="548.8" x2="110.9" y2="548.8" stroke="#777" stroke-width="0.8" stroke-linecap="butt"/>
<polygon points="97,548.8 105.5,546.5 105.5,551.1" fill="#222"/>
<text transform="translate(78.8,552.4) scale(1.0089,1)" x="-13.39" y="0" font-size="15.70" fill="#505050">190</text>
<line x1="115.5" y1="568.2" x2="174.4" y2="568.2" stroke="#777" stroke-width="0.8" stroke-linecap="butt"/>
<line x1="87.8" y1="663.6" x2="174.4" y2="663.6" stroke="#777" stroke-width="0.8" stroke-linecap="butt"/>
<line x1="166.3" y1="568.2" x2="166.3" y2="612" stroke="#777" stroke-width="0.8" stroke-linecap="butt"/>
<line x1="166.3" y1="625" x2="166.3" y2="663.6" stroke="#777" stroke-width="0.8" stroke-linecap="butt"/>
<polygon points="166.3,568.2 168.6,576.7 164,576.7" fill="#222"/>
<polygon points="166.3,663.6 164,655.1 168.6,655.1" fill="#222"/>
<text transform="translate(168.6,623.7) scale(1.0181,1)" x="-13.1" y="0" font-size="15.70" fill="#505050">530</text>
<line x1="101.6" y1="582.8" x2="143.2" y2="582.8" stroke="#777" stroke-width="0.8" stroke-linecap="butt"/>
<line x1="136.7" y1="582.8" x2="136.7" y2="614" stroke="#777" stroke-width="0.8" stroke-linecap="butt"/>
<line x1="136.7" y1="629" x2="136.7" y2="663.6" stroke="#777" stroke-width="0.8" stroke-linecap="butt"/>
<polygon points="136.7,582.8 139,591.3 134.4,591.3" fill="#222"/>
<polygon points="136.7,663.6 134.4,655.1 139,655.1" fill="#222"/>
<text transform="translate(137.4,627.6) scale(0.9730,1)" x="-13.43" y="0" font-size="16.28" fill="#505050">455</text>
<line x1="46.6" y1="635.9" x2="46.6" y2="691.3" stroke="#777" stroke-width="0.8" stroke-linecap="butt"/>
<line x1="112.7" y1="635.9" x2="112.7" y2="691.3" stroke="#777" stroke-width="0.8" stroke-linecap="butt"/>
<line x1="46.6" y1="684.4" x2="62" y2="684.4" stroke="#777" stroke-width="0.8" stroke-linecap="butt"/>
<line x1="95" y1="684.4" x2="112.7" y2="684.4" stroke="#777" stroke-width="0.8" stroke-linecap="butt"/>
<polygon points="46.6,684.4 55.1,682.1 55.1,686.7" fill="#222"/>
<polygon points="112.7,684.4 104.2,686.7 104.2,682.1" fill="#222"/>
<text transform="translate(78.2,690.7) scale(1.0062,1)" x="-13.33" y="0" font-size="15.99" fill="#505050">360</text>
<path d="M295.4,592.5 L360.5,592.5 L354.2,645.4 L301.7,645.4 Z" stroke="#1e1e1e" stroke-width="2.1" fill="none" stroke-linejoin="round"/>
<path d="M319.4,645.4 Q320,653.7 328.1,653.7 Q336.3,653.7 336.9,645.4" stroke="#1e1e1e" stroke-width="2" fill="none" />
<circle cx="311.3" cy="608.9" r="2.6" fill="#bbb" stroke="#666" stroke-width="1.1"/>
<circle cx="344.4" cy="608.9" r="2.6" fill="#bbb" stroke="#666" stroke-width="1.1"/>
<circle cx="327.9" cy="602.7" r="5.6" fill="none" stroke="#444" stroke-width="1.4" stroke-dasharray="2.4,1.4"/>
<line x1="327.9" y1="595.6" x2="327.9" y2="610.5" stroke="#444" stroke-width="1.1" stroke-linecap="butt"/>
<line x1="321.6" y1="602.7" x2="335" y2="602.7" stroke="#555" stroke-width="1" stroke-dasharray="3,1.5" stroke-linecap="butt"/>
<circle cx="327.9" cy="626.7" r="9.9" fill="none" stroke="#444" stroke-width="1.4" stroke-dasharray="2.8,1.6"/>
<line x1="327.9" y1="612.6" x2="327.9" y2="639.5" stroke="#444" stroke-width="1.1" stroke-linecap="butt"/>
<line x1="316.6" y1="626.7" x2="340" y2="626.7" stroke="#555" stroke-width="1" stroke-dasharray="3,1.5" stroke-linecap="butt"/>
<line x1="298.9" y1="664.7" x2="358.4" y2="664.7" stroke="#555" stroke-width="1.6" stroke-linecap="butt"/>
<path d="M299.5,669 L301,665.3 M301.85,669 L303.35,665.3 M304.2,669 L305.7,665.3 M306.55,669 L308.05,665.3 M308.9,669 L310.4,665.3 M311.25,669 L312.75,665.3 M313.6,669 L315.1,665.3 M315.95,669 L317.45,665.3 M318.3,669 L319.8,665.3 M320.65,669 L322.15,665.3 M323,669 L324.5,665.3 M325.35,669 L326.85,665.3 M327.7,669 L329.2,665.3 M330.05,669 L331.55,665.3 M332.4,669 L333.9,665.3 M334.75,669 L336.25,665.3 M337.1,669 L338.6,665.3 M339.45,669 L340.95,665.3 M341.8,669 L343.3,665.3 M344.15,669 L345.65,665.3 M346.5,669 L348,665.3 M348.85,669 L350.35,665.3 M351.2,669 L352.7,665.3 M353.55,669 L355.05,665.3 M355.9,669 L357.4,665.3 " stroke="#666" stroke-width="0.8" fill="none"/>
<line x1="311.7" y1="566.9" x2="311.7" y2="602.5" stroke="#777" stroke-width="0.8" stroke-linecap="butt"/>
<line x1="344.5" y1="566.9" x2="344.5" y2="602.5" stroke="#777" stroke-width="0.8" stroke-linecap="butt"/>
<line x1="297.5" y1="574.8" x2="311.7" y2="574.8" stroke="#777" stroke-width="0.8" stroke-linecap="butt"/>
<polygon points="311.7,574.8 303.2,577.1 303.2,572.5" fill="#222"/>
<line x1="344.5" y1="574.8" x2="359.2" y2="574.8" stroke="#777" stroke-width="0.8" stroke-linecap="butt"/>
<polygon points="344.5,574.8 353,572.5 353,577.1" fill="#222"/>
<text transform="translate(326.7,578.5) scale(1.0572,1)" x="-13.14" y="0" font-size="15.41" fill="#505050">180</text>
<line x1="265.8" y1="602" x2="318" y2="602" stroke="#777" stroke-width="0.8" stroke-linecap="butt"/>
<line x1="265" y1="664.2" x2="295.1" y2="664.2" stroke="#777" stroke-width="0.8" stroke-linecap="butt"/>
<line x1="272.2" y1="602" x2="272.2" y2="627" stroke="#777" stroke-width="0.8" stroke-linecap="butt"/>
<line x1="272.2" y1="643" x2="272.2" y2="664.2" stroke="#777" stroke-width="0.8" stroke-linecap="butt"/>
<polygon points="272.2,602 274.5,610.5 269.9,610.5" fill="#222"/>
<polygon points="272.2,664.2 269.9,655.7 274.5,655.7" fill="#222"/>
<text transform="translate(272.1,640.3) scale(1.0242,1)" x="-12.94" y="0" font-size="15.55" fill="#505050">335</text>
<line x1="351.3" y1="608.8" x2="390.8" y2="608.8" stroke="#777" stroke-width="0.8" stroke-linecap="butt"/>
<line x1="361.6" y1="664.2" x2="389.3" y2="664.2" stroke="#777" stroke-width="0.8" stroke-linecap="butt"/>
<line x1="381.3" y1="608.8" x2="381.3" y2="629" stroke="#777" stroke-width="0.8" stroke-linecap="butt"/>
<line x1="381.3" y1="645" x2="381.3" y2="664.2" stroke="#777" stroke-width="0.8" stroke-linecap="butt"/>
<polygon points="381.3,608.8 383.6,617.3 379,617.3" fill="#222"/>
<polygon points="381.3,664.2 379,655.7 383.6,655.7" fill="#222"/>
<text transform="translate(382.1,641.8) scale(1.0319,1)" x="-12.85" y="0" font-size="15.41" fill="#505050">300</text>
<line x1="569.6" y1="575.5" x2="569.6" y2="665.2" stroke="#3a3a3a" stroke-width="1.3" stroke-linecap="butt"/>
<path d="M564,586.5 L569,582 M564,588.8 L569,584.3 M564,591.1 L569,586.6 M564,593.4 L569,588.9 M564,595.7 L569,591.2 M564,598 L569,593.5 M564,600.3 L569,595.8 M564,602.6 L569,598.1 M564,604.9 L569,600.4 M564,607.2 L569,602.7 M564,609.5 L569,605 M564,611.8 L569,607.3 M564,614.1 L569,609.6 M564,616.4 L569,611.9 M564,618.7 L569,614.2 M564,621 L569,616.5 M564,623.3 L569,618.8 M564,625.6 L569,621.1 M564,627.9 L569,623.4 M564,630.2 L569,625.7 M564,632.5 L569,628 M564,634.8 L569,630.3 M564,637.1 L569,632.6 M564,639.4 L569,634.9 M564,641.7 L569,637.2 M564,644 L569,639.5 M564,646.3 L569,641.8 M564,648.6 L569,644.1 M564,650.9 L569,646.4 M564,653.2 L569,648.7 M564,655.5 L569,651 M564,657.8 L569,653.3 M564,660.1 L569,655.6 M564,662.4 L569,657.9 M564,664.7 L569,660.2 " stroke="#666" stroke-width="0.8" fill="none"/>
<line x1="569.6" y1="665.3" x2="641.5" y2="665.3" stroke="#333" stroke-width="1.4" stroke-linecap="butt"/>
<path d="M570.5,669.8 L572.1,665.8 M572.85,669.8 L574.45,665.8 M575.2,669.8 L576.8,665.8 M577.55,669.8 L579.15,665.8 M579.9,669.8 L581.5,665.8 M582.25,669.8 L583.85,665.8 M584.6,669.8 L586.2,665.8 M586.95,669.8 L588.55,665.8 M589.3,669.8 L590.9,665.8 M591.65,669.8 L593.25,665.8 M594,669.8 L595.6,665.8 M596.35,669.8 L597.95,665.8 M598.7,669.8 L600.3,665.8 M601.05,669.8 L602.65,665.8 M603.4,669.8 L605,665.8 M605.75,669.8 L607.35,665.8 M608.1,669.8 L609.7,665.8 M610.45,669.8 L612.05,665.8 M612.8,669.8 L614.4,665.8 M615.15,669.8 L616.75,665.8 M617.5,669.8 L619.1,665.8 M619.85,669.8 L621.45,665.8 M622.2,669.8 L623.8,665.8 M624.55,669.8 L626.15,665.8 M626.9,669.8 L628.5,665.8 M629.25,669.8 L630.85,665.8 M631.6,669.8 L633.2,665.8 M633.95,669.8 L635.55,665.8 M636.3,669.8 L637.9,665.8 M638.65,669.8 L640.25,665.8 " stroke="#666" stroke-width="0.8" fill="none"/>
<path d="M569.6,592.7 L664.5,592.7 L664.5,595.5 Q662,612 657.3,625 Q650,638 638.8,645.5 L618.3,645.5" stroke="#1e1e1e" stroke-width="2" fill="none" />
<line x1="569.6" y1="645.5" x2="592.2" y2="645.5" stroke="#1e1e1e" stroke-width="2" stroke-linecap="butt"/>
<path d="M592.2,645.5 Q596,654.3 605,654.3 Q614.5,654.3 618.3,645.5" stroke="#1e1e1e" stroke-width="2.2" fill="none" />
<path d="M655.2,593.7 Q650,610 636,618 Q628,621.5 626.5,624.5 Q624.5,627 624,629.1 L620.4,638.3 L618.3,645.5" stroke="#333" stroke-width="1.2" fill="none" />
<path d="M592.2,645.5 L587.6,632.7 L581.9,632.7 L581.9,637.3 L572.2,637.3 L572.2,618.8 L596.8,618.8" stroke="#333" stroke-width="1.2" fill="none" />
<path d="M572.2,595.3 L572.2,609.6 L593.7,609.6" stroke="#333" stroke-width="1.2" fill="none" />
<path d="M573.2,597.8 L579.4,597.8 L579.9,607 L573.2,607" stroke="#333" stroke-width="1.1" fill="none" />
<line x1="579.6" y1="598.5" x2="579.6" y2="606.5" stroke="#333" stroke-width="1.8" stroke-linecap="butt"/>
<line x1="565.5" y1="602.3" x2="578" y2="602.3" stroke="#666" stroke-width="0.7" stroke-linecap="butt"/>
<path d="M592.7,603.8 L650.1,604.3" stroke="#333" stroke-width="1.2" fill="none" />
<path d="M592.7,603.8 Q592,605.5 593.7,608.6 L606,639.3" stroke="#333" stroke-width="1.2" fill="none" />
<line x1="596.8" y1="593.2" x2="598.3" y2="601.4" stroke="#333" stroke-width="1.1" stroke-linecap="butt"/>
<line x1="598.3" y1="601.4" x2="611.1" y2="598.8" stroke="#333" stroke-width="1.1" stroke-linecap="butt"/>
<line x1="589" y1="632.2" x2="622.6" y2="632.2" stroke="#888" stroke-width="0.8" stroke-dasharray="2.6,1.6" stroke-linecap="butt"/>
<line x1="589.8" y1="635.2" x2="621.8" y2="635.2" stroke="#888" stroke-width="0.8" stroke-dasharray="2.6,1.6" stroke-linecap="butt"/>
<line x1="590.8" y1="638.3" x2="621" y2="638.3" stroke="#888" stroke-width="0.8" stroke-dasharray="2.6,1.6" stroke-linecap="butt"/>
<line x1="591.8" y1="641.4" x2="620" y2="641.4" stroke="#888" stroke-width="0.8" stroke-dasharray="2.6,1.6" stroke-linecap="butt"/>
<line x1="592.5" y1="644.5" x2="619" y2="644.5" stroke="#888" stroke-width="0.8" stroke-dasharray="2.6,1.6" stroke-linecap="butt"/>
<line x1="594.5" y1="647.6" x2="616.5" y2="647.6" stroke="#888" stroke-width="0.8" stroke-dasharray="2.6,1.6" stroke-linecap="butt"/>
<line x1="597" y1="650.1" x2="613.5" y2="650.1" stroke="#888" stroke-width="0.8" stroke-dasharray="2.6,1.6" stroke-linecap="butt"/>
<line x1="544.5" y1="598.2" x2="564" y2="598.2" stroke="#777" stroke-width="0.8" stroke-linecap="butt"/>
<line x1="544.5" y1="607.9" x2="564" y2="607.9" stroke="#777" stroke-width="0.8" stroke-linecap="butt"/>
<line x1="547.2" y1="585" x2="547.2" y2="598.2" stroke="#777" stroke-width="0.8" stroke-linecap="butt"/>
<polygon points="547.2,598.2 544.9,589.7 549.5,589.7" fill="#222"/>
<line x1="547.2" y1="607.9" x2="547.2" y2="623.2" stroke="#777" stroke-width="0.8" stroke-linecap="butt"/>
<polygon points="547.2,607.9 549.5,616.4 544.9,616.4" fill="#222"/>
<text transform="translate(527.2,593.9) scale(1.0008,1)" x="-14.37" y="0" font-size="15.26" fill="#505050">Ø55</text>
<line x1="521.6" y1="618" x2="544.5" y2="618" stroke="#777" stroke-width="0.8" stroke-linecap="butt"/>
<line x1="552" y1="618" x2="564" y2="618" stroke="#777" stroke-width="0.8" stroke-dasharray="4,2" stroke-linecap="butt"/>
<line x1="521.6" y1="637.3" x2="564" y2="637.3" stroke="#777" stroke-width="0.8" stroke-linecap="butt"/>
<line x1="527.2" y1="601.7" x2="527.2" y2="618" stroke="#777" stroke-width="0.8" stroke-linecap="butt"/>
<polygon points="527.2,618 524.9,609.5 529.5,609.5" fill="#222"/>
<line x1="527.2" y1="637.3" x2="527.2" y2="653.6" stroke="#777" stroke-width="0.8" stroke-linecap="butt"/>
<polygon points="527.2,637.3 529.5,645.8 524.9,645.8" fill="#222"/>
<text transform="translate(521.9,634) scale(1.0040,1)" x="-18.81" y="0" font-size="15.41" fill="#505050">Ø100</text>
<line x1="547.2" y1="628.4" x2="578.4" y2="628.4" stroke="#666" stroke-width="0.8" stroke-dasharray="6,2,1,2" stroke-linecap="butt"/>
<line x1="475.9" y1="628.4" x2="498.8" y2="628.4" stroke="#777" stroke-width="0.8" stroke-linecap="butt"/>
<line x1="481.9" y1="612.1" x2="481.9" y2="628.4" stroke="#777" stroke-width="0.8" stroke-linecap="butt"/>
<polygon points="481.9,628.4 479.6,619.9 484.2,619.9" fill="#222"/>
<line x1="475.9" y1="664.7" x2="564" y2="664.7" stroke="#777" stroke-width="0.8" stroke-linecap="butt"/>
<line x1="481.9" y1="664.7" x2="481.9" y2="680" stroke="#777" stroke-width="0.8" stroke-linecap="butt"/>
<polygon points="481.9,664.7 484.2,673.2 479.6,673.2" fill="#222"/>
<text transform="translate(484.2,652) scale(1.1574,1)" x="-12.09" y="0" font-size="14.39" fill="#505050">200</text>
<line x1="666.8" y1="592.7" x2="706.4" y2="592.7" stroke="#777" stroke-width="0.8" stroke-linecap="butt"/>
<line x1="646.2" y1="665.5" x2="707.2" y2="665.5" stroke="#777" stroke-width="0.8" stroke-linecap="butt"/>
<line x1="697.7" y1="592.7" x2="697.7" y2="620" stroke="#777" stroke-width="0.8" stroke-linecap="butt"/>
<line x1="697.7" y1="639" x2="697.7" y2="665.5" stroke="#777" stroke-width="0.8" stroke-linecap="butt"/>
<polygon points="697.7,592.7 700,601.2 695.4,601.2" fill="#222"/>
<polygon points="697.7,665.5 695.4,657 700,657" fill="#222"/>
<text transform="translate(698.1,635.2) scale(1.0447,1)" x="-12.85" y="0" font-size="15.55" fill="#505050">400</text>
<line x1="614.6" y1="654.4" x2="685" y2="654.4" stroke="#777" stroke-width="0.8" stroke-linecap="butt"/>
<line x1="673.6" y1="640.2" x2="673.6" y2="654.4" stroke="#777" stroke-width="0.8" stroke-linecap="butt"/>
<polygon points="673.6,654.4 671.9,647.9 675.3,647.9" fill="#222"/>
<line x1="673.6" y1="665.5" x2="673.6" y2="679" stroke="#777" stroke-width="0.8" stroke-linecap="butt"/>
<polygon points="673.6,665.5 675.3,672 671.9,672" fill="#222"/>
<text transform="translate(660.5,649.5) scale(1.1513,1)" x="-7.89" y="0" font-size="14.39" fill="#505050">40</text>
<rect x="782.7" y="562.4" width="103.2" height="109.6" rx="0" stroke="#222" stroke-width="1.7" fill="none"/>
<ellipse cx="834.6" cy="586" rx="8" ry="9.4" fill="none" stroke="#444" stroke-width="1.1"/>
<ellipse cx="834.4" cy="621.4" rx="15.8" ry="16.9" fill="none" stroke="#444" stroke-width="1.1"/>
<rect x="802.1" y="593.9" width="11.8" height="3.5" rx="1.7" stroke="#444" stroke-width="1" fill="none"/>
<rect x="855.3" y="593.9" width="11.8" height="3.5" rx="1.7" stroke="#444" stroke-width="1" fill="none"/>
<rect x="832.9" y="645.5" width="3" height="21.3" rx="1.5" stroke="#444" stroke-width="1" fill="none"/>
<line x1="782.7" y1="529.5" x2="782.7" y2="560" stroke="#777" stroke-width="0.8" stroke-linecap="butt"/>
<line x1="886.1" y1="529.5" x2="886.1" y2="560" stroke="#777" stroke-width="0.8" stroke-linecap="butt"/>
<line x1="782.7" y1="535.2" x2="823" y2="535.2" stroke="#777" stroke-width="0.8" stroke-linecap="butt"/>
<line x1="845" y1="535.2" x2="886.1" y2="535.2" stroke="#777" stroke-width="0.8" stroke-linecap="butt"/>
<polygon points="782.7,535.2 792,531.1 792,539.3" fill="#222"/>
<polygon points="886.1,535.2 876.8,539.3 876.8,531.1" fill="#222"/>
<text transform="translate(834.4,540.4) scale(1.1273,1)" x="-6.85" y="0" font-size="12.50" fill="#333">40</text>
<line x1="888.2" y1="562.2" x2="918.8" y2="562.2" stroke="#777" stroke-width="0.8" stroke-linecap="butt"/>
<line x1="888.2" y1="672" x2="918.8" y2="672" stroke="#777" stroke-width="0.8" stroke-linecap="butt"/>
<line x1="913.5" y1="562.2" x2="913.5" y2="607.5" stroke="#777" stroke-width="0.8" stroke-linecap="butt"/>
<line x1="913.5" y1="626" x2="913.5" y2="672" stroke="#777" stroke-width="0.8" stroke-linecap="butt"/>
<polygon points="913.5,562.2 917.6,571.5 909.4,571.5" fill="#222"/>
<polygon points="913.5,672 909.4,662.7 917.6,662.7" fill="#222"/>
<text transform="translate(913.5,621.2) scale(1.0652,1)" x="-7.25" y="0" font-size="13.37" fill="#333">42</text>
</svg>
</body></html>
